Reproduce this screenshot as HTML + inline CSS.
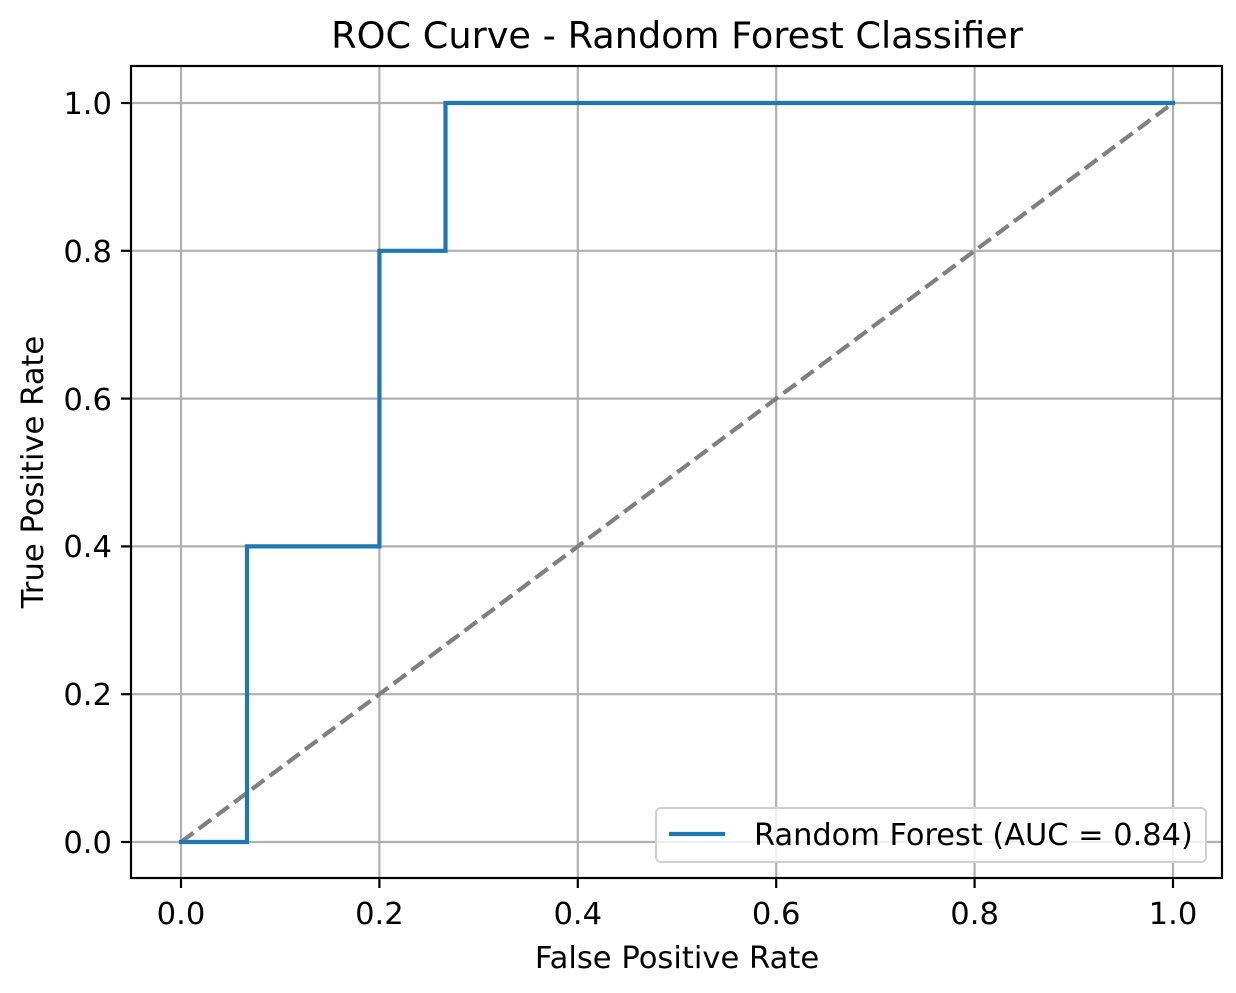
<!DOCTYPE html>
<html><head><meta charset="utf-8"><style>html,body{margin:0;padding:0;background:#fff}</style></head>
<body>
<svg width="1236" height="988" viewBox="0 0 1236 988" xmlns="http://www.w3.org/2000/svg" font-family="'DejaVu Sans','Liberation Sans',sans-serif">
<rect width="1236" height="988" fill="#fff"/>
<g stroke="#b0b0b0" stroke-width="2.2">
<line x1="181" y1="66" x2="181" y2="878"/>
<line x1="379.4" y1="66" x2="379.4" y2="878"/>
<line x1="577.8" y1="66" x2="577.8" y2="878"/>
<line x1="776.2" y1="66" x2="776.2" y2="878"/>
<line x1="974.6" y1="66" x2="974.6" y2="878"/>
<line x1="1173" y1="66" x2="1173" y2="878"/>
<line x1="131" y1="842" x2="1222" y2="842"/>
<line x1="131" y1="694.2" x2="1222" y2="694.2"/>
<line x1="131" y1="546.4" x2="1222" y2="546.4"/>
<line x1="131" y1="398.6" x2="1222" y2="398.6"/>
<line x1="131" y1="250.8" x2="1222" y2="250.8"/>
<line x1="131" y1="103" x2="1222" y2="103"/>
</g>
<line x1="181" y1="842" x2="1173" y2="103" stroke="#808080" stroke-width="4.2" stroke-dasharray="15.4,6.7"/>
<polyline points="181,842 247,842 247,546.4 379.4,546.4 379.4,250.8 445.5,250.8 445.5,103 1173,103" fill="none" stroke="#1f77b4" stroke-width="4.2" stroke-linejoin="miter" stroke-linecap="square"/>
<rect x="131" y="66" width="1091" height="812" fill="none" stroke="#000" stroke-width="2.2"/>
<g stroke="#000" stroke-width="2.2">
<line x1="181" y1="878" x2="181" y2="888"/>
<line x1="379.4" y1="878" x2="379.4" y2="888"/>
<line x1="577.8" y1="878" x2="577.8" y2="888"/>
<line x1="776.2" y1="878" x2="776.2" y2="888"/>
<line x1="974.6" y1="878" x2="974.6" y2="888"/>
<line x1="1173" y1="878" x2="1173" y2="888"/>
<line x1="121" y1="842" x2="131" y2="842"/>
<line x1="121" y1="694.2" x2="131" y2="694.2"/>
<line x1="121" y1="546.4" x2="131" y2="546.4"/>
<line x1="121" y1="398.6" x2="131" y2="398.6"/>
<line x1="121" y1="250.8" x2="131" y2="250.8"/>
<line x1="121" y1="103" x2="131" y2="103"/>
</g>
<g font-size="30.6" text-anchor="middle" fill="#000">
<text x="181" y="924">0.0</text><text x="379.4" y="924">0.2</text><text x="577.8" y="924">0.4</text>
<text x="776.2" y="924">0.6</text><text x="974.6" y="924">0.8</text><text x="1173" y="924">1.0</text>
</g>
<g font-size="30.6" text-anchor="end" fill="#000">
<text x="112" y="853">0.0</text><text x="112" y="705">0.2</text><text x="112" y="557">0.4</text>
<text x="112" y="410">0.6</text><text x="112" y="262">0.8</text><text x="112" y="114">1.0</text>
</g>
<text x="677" y="968" font-size="30.6" text-anchor="middle">False Positive Rate</text>
<text transform="translate(43,472) rotate(-90)" font-size="30.6" text-anchor="middle">True Positive Rate</text>
<text x="677" y="48" font-size="36.7" text-anchor="middle">ROC Curve - Random Forest Classifier</text>
<rect x="656" y="808" width="550" height="54" rx="5" fill="#fff" fill-opacity="0.8" stroke="#d0d0d0" stroke-width="2"/>
<line x1="669" y1="834" x2="725" y2="834" stroke="#1f77b4" stroke-width="4.2"/>
<text x="754" y="845" font-size="30.4">Random Forest (AUC = 0.84)</text>
</svg>
</body></html>
